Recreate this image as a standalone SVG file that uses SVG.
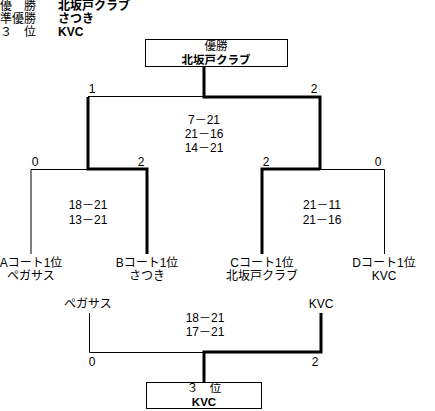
<svg xmlns="http://www.w3.org/2000/svg" width="435" height="411" viewBox="0 0 435 411">
<style>
text{font-family:"Liberation Sans","Noto Sans CJK JP",sans-serif;font-size:12px;fill:#000}
.b{font-weight:bold}
.m{text-anchor:middle}
.s{font-size:11.5px}
.thin{fill:none;stroke:#000;stroke-width:1}
.thick{fill:none;stroke:#000;stroke-width:3}
.box{fill:#fff;stroke:#000;stroke-width:1}
</style>
<rect width="435" height="411" fill="#fff"/>
<g id="summary">
<text x="0" y="10">優　勝</text>
<text x="58" y="10" class="b">北坂戸クラブ</text>
<text x="0" y="23">準優勝</text>
<text x="58" y="23" class="b">さつき</text>
<text x="0" y="36"> ３　位</text>
<text x="58" y="36" class="b">KVC</text>
</g>
<g id="connectors">
<line class="thin" x1="88" y1="96.5" x2="204" y2="96.5"/>
<polyline class="thick" points="204,66 204,97 320,97 320,169"/>
<polyline class="thick" points="88,97 88,169 147,169 147,254"/>
<polyline class="thin" points="31,254 31,169.5 88,169.5"/>
<polyline class="thick" points="262,254 262,169 320,169"/>
<polyline class="thin" points="320,169.5 384.5,169.5 384.5,254"/>
<polyline class="thin" points="89.5,313 89.5,352.5 204,352.5"/>
<polyline class="thick" points="204,382 204,352 321,352 321,313"/>
</g>
<g id="winner">
<rect class="box" x="145.5" y="39.5" width="142" height="27"/>
<text x="216" y="50" class="m s">優勝</text>
<text x="216" y="64" class="m b s">北坂戸クラブ</text>
</g>
<g id="final">
<text x="92" y="93" class="m">1</text>
<text x="314" y="93" class="m">2</text>
<text x="204" y="124" class="m">7－21</text>
<text x="204" y="138" class="m">21－16</text>
<text x="204" y="152" class="m">14－21</text>
</g>
<g id="semi-left">
<text x="35" y="166" class="m">0</text>
<text x="141" y="166" class="m">2</text>
<text x="88" y="209" class="m">18－21</text>
<text x="88" y="224" class="m">13－21</text>
</g>
<g id="semi-right">
<text x="266" y="166" class="m">2</text>
<text x="378" y="166" class="m">0</text>
<text x="322" y="209" class="m">21－11</text>
<text x="322" y="224" class="m">21－16</text>
</g>
<g id="teamA">
<text x="31" y="267" class="m">Aコート1位</text>
<text x="31" y="280" class="m">ペガサス</text>
</g>
<g id="teamB">
<text x="147" y="267" class="m">Bコート1位</text>
<text x="147" y="280" class="m">さつき</text>
</g>
<g id="teamC">
<text x="262" y="267" class="m">Cコート1位</text>
<text x="262" y="280" class="m">北坂戸クラブ</text>
</g>
<g id="teamD">
<text x="384" y="267" class="m">Dコート1位</text>
<text x="384" y="280" class="m">KVC</text>
</g>
<g id="third-match">
<text x="88" y="308" class="m">ペガサス</text>
<text x="321" y="308" class="m">KVC</text>
<text x="205" y="322" class="m">18－21</text>
<text x="205" y="336" class="m">17－21</text>
<text x="92" y="366" class="m">0</text>
<text x="315" y="366" class="m">2</text>
</g>
<g id="third">
<rect class="box" x="146.5" y="382.5" width="115" height="26"/>
<text x="204" y="392" class="m s">３　位</text>
<text x="204" y="406" class="m b s">KVC</text>
</g>
</svg>
